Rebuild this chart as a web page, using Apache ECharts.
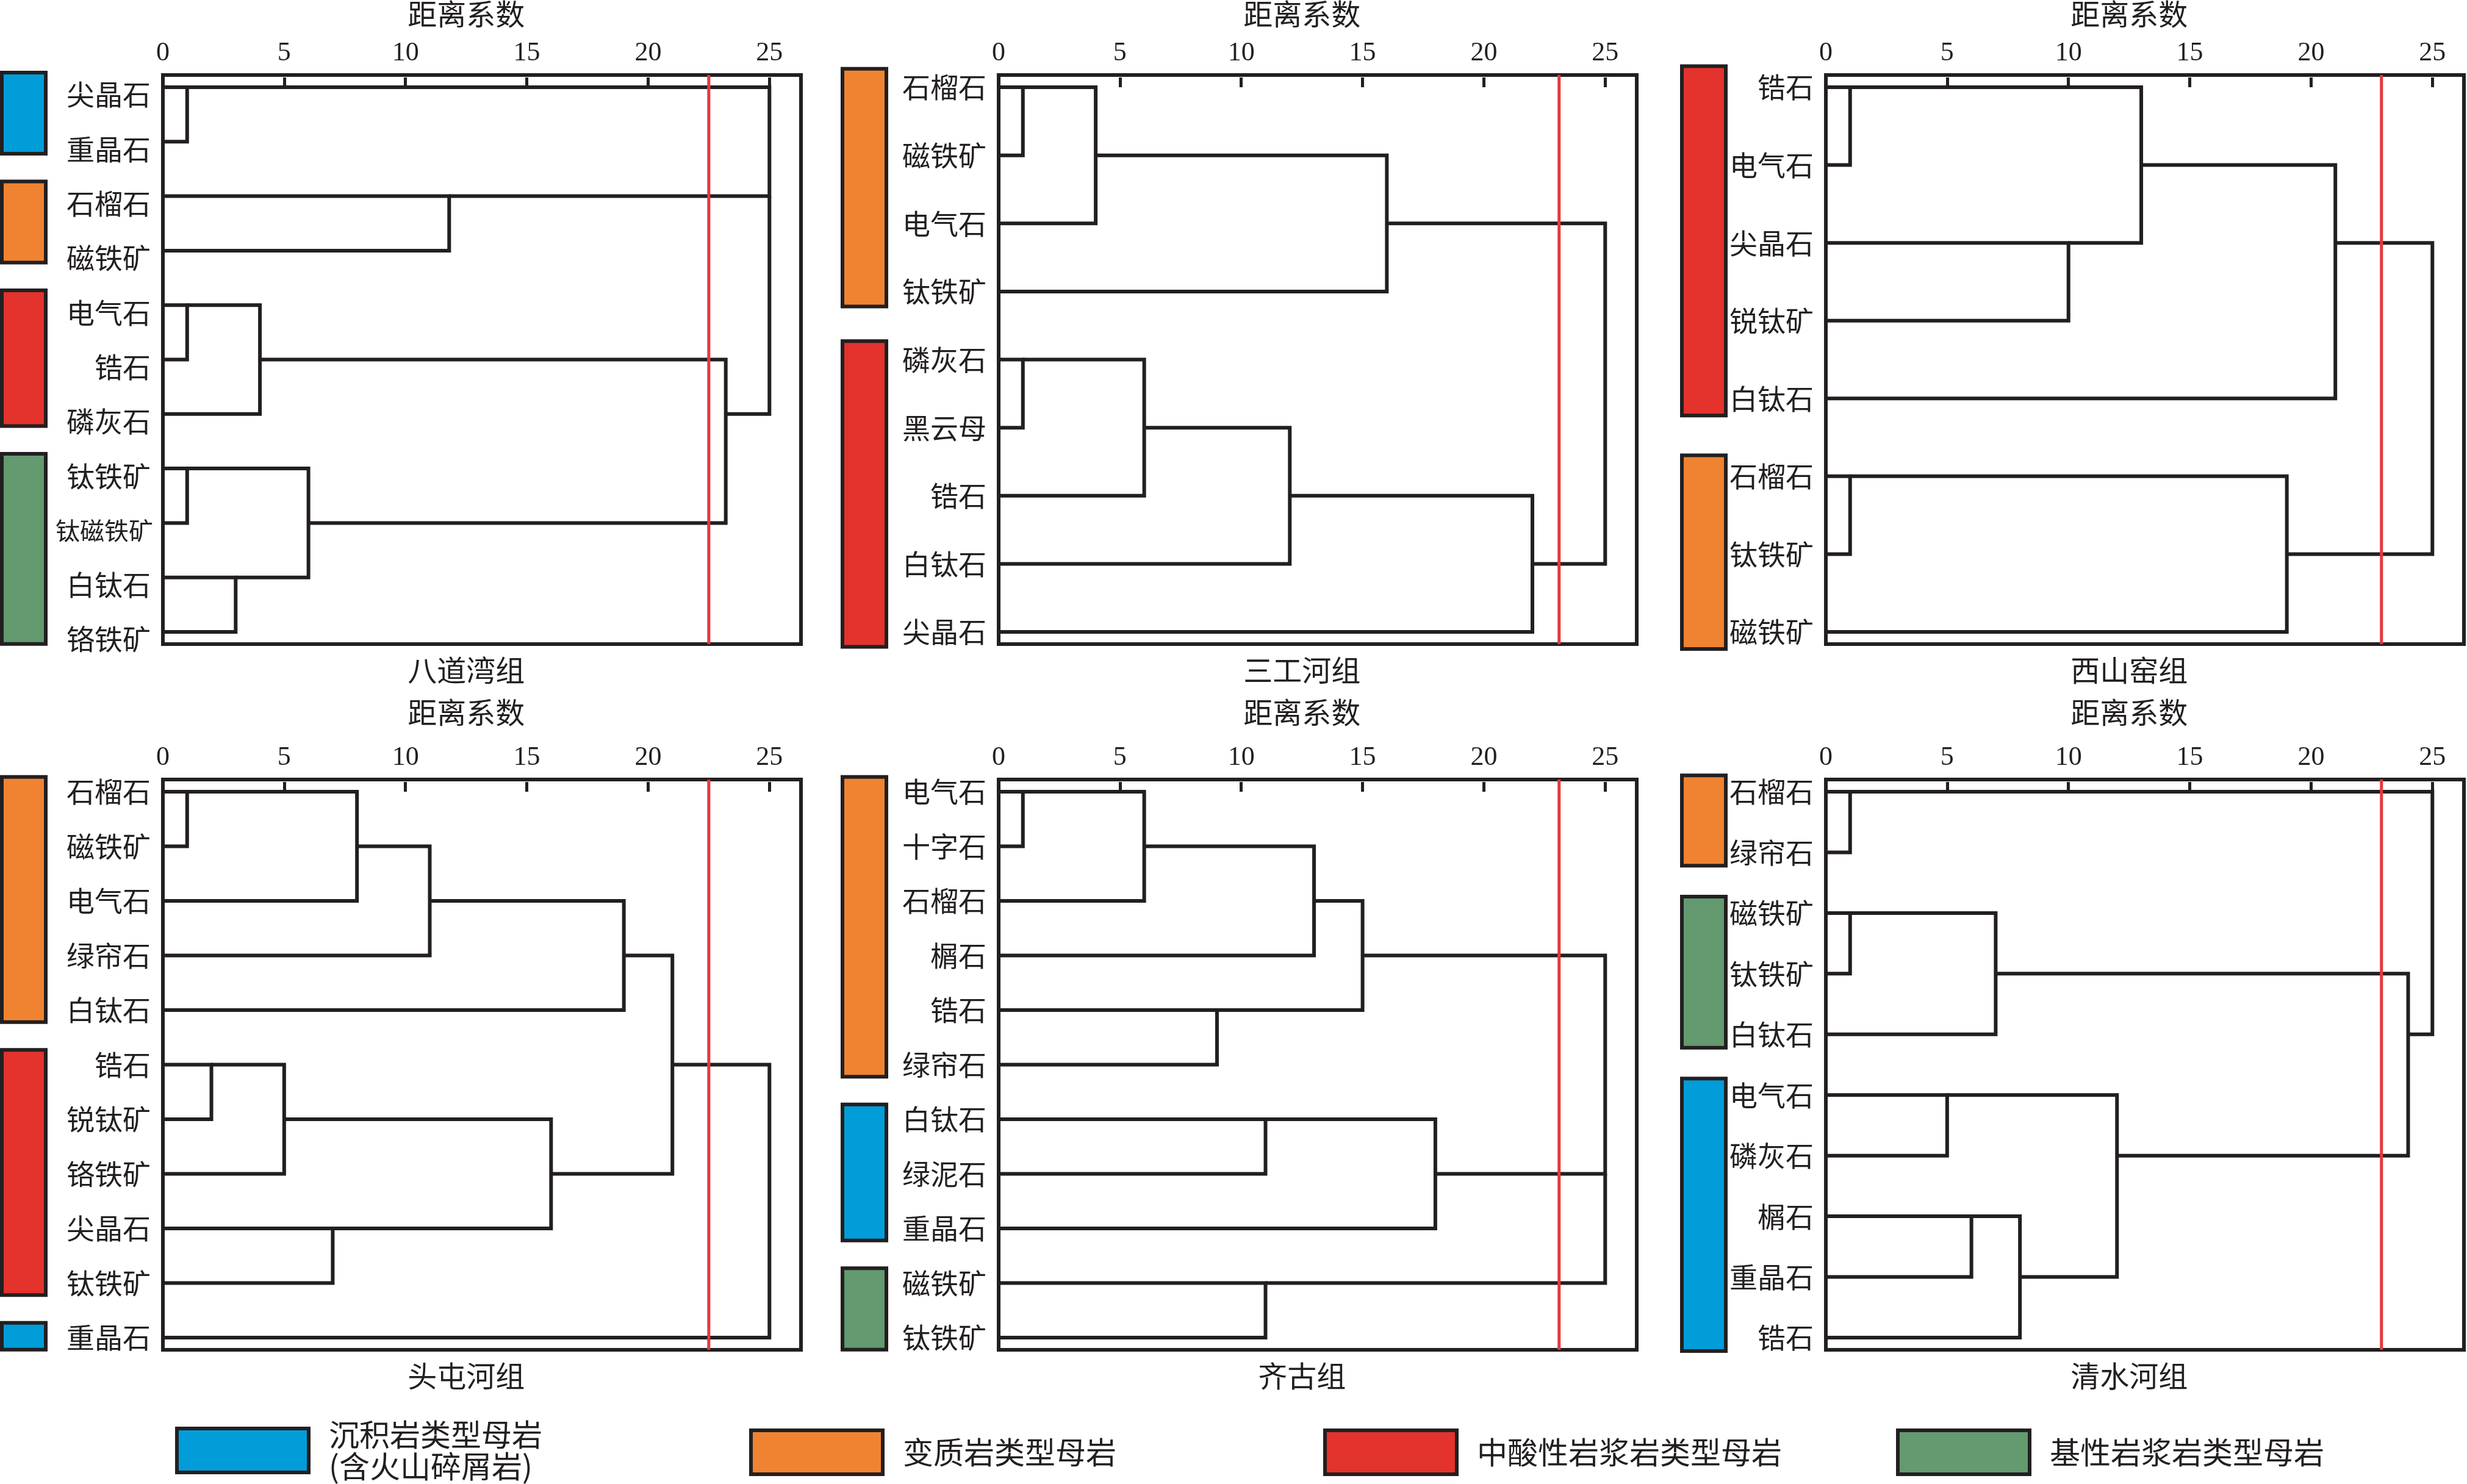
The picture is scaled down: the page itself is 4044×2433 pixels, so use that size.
<!DOCTYPE html>
<html><head><meta charset="utf-8">
<script src="https://cdn.jsdelivr.net/npm/echarts@6/dist/echarts.min.js"></script>
<style>html,body{margin:0;padding:0;background:#fff}#c{width:4044px;height:2433px}</style>
</head><body><div id="c"></div><script>
// ---------------- data ----------------
const tickValues = [0, 5, 10, 15, 20, 25];
const axisTitle = '距离系数';
const rockTypes = ['沉积岩类型母岩\n(含火山碎屑岩)', '变质岩类型母岩', '中酸性岩浆岩类型母岩', '基性岩浆岩类型母岩'];
const panelNames = ['八道湾组', '三工河组', '西山窑组', '头屯河组', '齐古组', '清水河组'];

// merges: [childA, childB, distance, row where merged cluster continues]; child = leaf row or 'mK'
const leaves1 = ['尖晶石','重晶石','石榴石','磁铁矿','电气石','锆石','磷灰石','钛铁矿','钛磁铁矿','白钛石','铬铁矿'];
const merges1 = [[0,1,1,0],[2,3,11.8,2],[4,5,1,4],['m2',6,4,5],[7,8,1,7],[9,10,3,9],['m4','m5',6,8],['m3','m6',23.2,6],['m0','m1',25,2],['m8','m7',25,4]];
const groups1 = [[0,0,1],[1,2,3],[2,4,6],[3,7,10]];
const cut1 = 22.5;

const leaves2 = ['石榴石','磁铁矿','电气石','钛铁矿','磷灰石','黑云母','锆石','白钛石','尖晶石'];
const merges2 = [[0,1,1,0],['m0',2,4,1],['m1',3,16,2],[4,5,1,4],['m3',6,6,5],['m4',7,12,6],['m5',8,22,7],['m2','m6',25,4]];
const groups2 = [[1,0,3],[2,4,8]];
const cut2 = 23.1;

const leaves3 = ['锆石','电气石','尖晶石','锐钛矿','白钛石','石榴石','钛铁矿','磁铁矿'];
const merges3 = [[0,1,1,0],[2,3,10,2],['m0','m1',13,1],['m2',4,21,2],[5,6,1,5],['m4',7,19,6],['m3','m5',25,4]];
const groups3 = [[2,0,4],[1,5,7]];
const cut3 = 22.9;

const leaves4 = ['石榴石','磁铁矿','电气石','绿帘石','白钛石','锆石','锐钛矿','铬铁矿','尖晶石','钛铁矿','重晶石'];
const merges4 = [[0,1,1,0],['m0',2,8,1],['m1',3,11,2],['m2',4,19,3],[5,6,2,5],['m4',7,5,6],[8,9,7,8],['m5','m6',16,7],['m3','m7',21,5],['m8',10,25,5]];
const groups4 = [[1,0,4],[2,5,9],[0,10,10]];
const cut4 = 22.5;

const leaves5 = ['电气石','十字石','石榴石','榍石','锆石','绿帘石','白钛石','绿泥石','重晶石','磁铁矿','钛铁矿'];
const merges5 = [[0,1,1,0],['m0',2,6,1],['m1',3,13,2],[4,5,9,4],['m2','m3',15,3],[6,7,11,6],['m5',8,18,7],[9,10,11,9],['m4','m6',25,7],['m8','m7',25,8]];
const groups5 = [[1,0,5],[0,6,8],[3,9,10]];
const cut5 = 23.1;

const leaves6 = ['石榴石','绿帘石','磁铁矿','钛铁矿','白钛石','电气石','磷灰石','榍石','重晶石','锆石'];
const merges6 = [[0,1,1,0],[2,3,1,2],['m1',4,7,3],[5,6,5,5],[7,8,6,7],['m4',9,8,8],['m3','m5',12,6],['m2','m6',24,4],['m0','m7',25,0]];
const groups6 = [[1,0,1],[3,2,4],[0,5,9]];
const cut6 = 22.9;

// ---------------- style / layout ----------------
const rockColors = ['#009dd9', '#ef8332', '#e4322d', '#639a6f'];
const INK = '#231f20';
const RED = '#e4393e';
const CJK = '"Noto Sans CJK SC", sans-serif';
const SERIF = '"Liberation Serif", "DejaVu Serif", serif';
const XMAX = 26.3, W = 1046;
const layout = [
  {left: 267,  top: 123,  h: 933, barOff: 264, labelDy: 12, titleDy: 100},
  {left: 1637, top: 123,  h: 933, barOff: 256, labelDy: 0,  titleDy: 100},
  {left: 2993, top: 123,  h: 933, barOff: 236, labelDy: 0,  titleDy: 100},
  {left: 267,  top: 1278, h: 935, barOff: 264, labelDy: 0,  titleDy: 110},
  {left: 1637, top: 1278, h: 935, barOff: 256, labelDy: 0,  titleDy: 110},
  {left: 2993, top: 1278, h: 935, barOff: 236, labelDy: 0,  titleDy: 110},
];
const panels = [
  [leaves1, merges1, groups1, cut1], [leaves2, merges2, groups2, cut2], [leaves3, merges3, groups3, cut3],
  [leaves4, merges4, groups4, cut4], [leaves5, merges5, groups5, cut5], [leaves6, merges6, groups6, cut6]
];

function brackets(merges) {
  const pos = {};
  const segs = [];
  merges.forEach((m, k) => {
    const [a, b, h, out] = m;
    const pa = typeof a === 'number' ? [0, a] : pos[a];
    const pb = typeof b === 'number' ? [0, b] : pos[b];
    segs.push({coords: [[pa[0], pa[1]], [h, pa[1]], [h, pb[1]], [pb[0], pb[1]]]});
    pos['m' + k] = [h, out];
  });
  return segs;
}

const grid = [], xAxis = [], yAxis = [], series = [], graphic = [];
panels.forEach((p, i) => {
  const [leaves, merges, groups, cut] = p;
  const L = layout[i];
  const n = leaves.length;
  const pad = 20 / ((L.h - 40) / (n - 1));
  const yMin = -pad, yMax = n - 1 + pad;
  grid.push({left: L.left, top: L.top, width: W, height: L.h, show: true, borderColor: INK, borderWidth: 6, backgroundColor: 'transparent'});
  xAxis.push({
    gridIndex: i, type: 'value', position: 'top', min: 0, max: XMAX,
    axisLine: {show: false}, splitLine: {show: false},
    axisTick: {show: true, inside: false, length: 16, lineStyle: {color: INK, width: 5}, customValues: tickValues},
    axisLabel: {show: true, customValues: tickValues, margin: 14, fontSize: 44, fontFamily: SERIF, color: INK}
  });
  yAxis.push({
    gridIndex: i, type: 'value', inverse: true, min: yMin, max: yMax,
    axisLine: {show: false}, splitLine: {show: false}, axisTick: {show: false},
    axisLabel: {
      show: true, customValues: leaves.map((_, k) => k), margin: 16,
      formatter: v => {
        const s = leaves[Math.round(v)] || '';
        return (s.length > 3 ? '{s|' : '{t|') + s + '}';
      },
      rich: {
        t: {fontSize: 46, fontFamily: CJK, color: INK, padding: [L.labelDy * 2, 4, 0, 0]},
        s: {fontSize: 40, fontFamily: CJK, color: INK, padding: [L.labelDy * 2, 0, 0, 0]}
      },
      fontSize: 46, fontFamily: CJK, color: INK
    }
  });
  series.push({
    type: 'lines', coordinateSystem: 'cartesian2d', xAxisIndex: i, yAxisIndex: i, polyline: true,
    silent: true, z: 3,
    lineStyle: {color: INK, width: 6, opacity: 1, join: 'miter', cap: 'butt'},
    data: brackets(merges)
  });
  series.push({
    type: 'lines', coordinateSystem: 'cartesian2d', xAxisIndex: i, yAxisIndex: i, polyline: true,
    silent: true, z: 5,
    lineStyle: {color: RED, width: 5, opacity: 1},
    data: [{coords: [[cut, yMin], [cut, yMax]]}]
  });
  groups.forEach(g => {
    const t = g[0];
    series.push({
      type: 'custom', name: rockTypes[t], xAxisIndex: i, yAxisIndex: i, silent: true, clip: false,
      itemStyle: {color: rockColors[t], borderColor: INK, borderWidth: 6},
      data: [[g[1], g[2]]],
      renderItem: (params, api) => {
        const y1 = api.coord([0, api.value(0) - 0.27])[1];
        const y2 = api.coord([0, api.value(1) + 0.22])[1];
        const x0 = api.coord([0, 0])[0];
        return {type: 'rect', shape: {x: x0 - L.barOff, y: Math.min(y1, y2), width: 72, height: Math.abs(y2 - y1)},
          style: {fill: rockColors[t], stroke: INK, lineWidth: 6}};
      }
    });
  });
  const cx = L.left + 12.5 * W / XMAX;
  graphic.push({type: 'text', x: cx, y: L.top - L.titleDy, silent: true,
    style: {text: axisTitle, align: 'center', verticalAlign: 'middle', fontSize: 48, fontFamily: CJK, fill: INK}});
  graphic.push({type: 'text', x: cx, y: L.top + L.h + 43, silent: true,
    style: {text: panelNames[i], align: 'center', verticalAlign: 'middle', fontSize: 48, fontFamily: CJK, fill: INK}});
});

const legendLefts = [287, 1228, 2169, 3108];
const legendTops = [2326, 2342, 2342, 2342];
const legend = rockTypes.map((name, t) => ({
  data: [{name: name, icon: 'rect', itemStyle: {color: rockColors[t], borderColor: INK, borderWidth: 6}}],
  left: legendLefts[t], top: legendTops[t], padding: 0, selectedMode: false,
  itemWidth: 216, itemHeight: 72,
  textStyle: {fontSize: 50, fontFamily: CJK, color: INK, lineHeight: 52, padding: [0, 0, 0, 28]}
}));

const chart = echarts.init(document.getElementById('c'), null, {renderer: 'canvas'});
chart.setOption({animation: false, backgroundColor: '#fff', grid, xAxis, yAxis, series, graphic, legend});
</script></body></html>
